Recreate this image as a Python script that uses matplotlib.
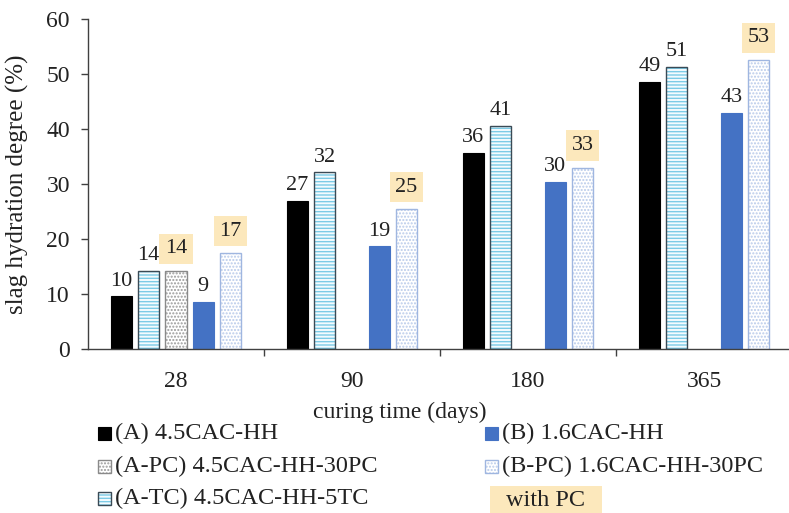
import matplotlib
matplotlib.use('Agg')
import matplotlib.pyplot as plt
from matplotlib.patches import Rectangle

plt.rcParams['font.family'] = ['Liberation Serif', 'DejaVu Serif']
plt.rcParams['hatch.linewidth'] = 1.0

# data
days = ['28', '90', '180', '365']
a_hh = [9.6, 26.9, 35.7, 48.6]
a_tc = [14.2, 32.1, 40.6, 51.3]
a_pc = [14.2, None, None, None]
b_hh = [8.6, 18.7, 30.4, 42.9]
b_pc = [17.4, 25.4, 33.0, 52.6]

labels = ['(A) 4.5CAC-HH', '(A-TC) 4.5CAC-HH-5TC', '(A-PC) 4.5CAC-HH-30PC',
          '(B) 1.6CAC-HH', '(B-PC) 1.6CAC-HH-30PC']
highlight = '#FCE8BC'

# style per series: face, hatch, hatch colour, edge, highlighted label
styles = [
    dict(face='black', hatch=None, hcol=None, edge='black', hl=False),
    dict(face='#f4fbfe', hatch='-----', hcol='#7ccbe6', edge='#3a4a55', hl=False),
    dict(face='white', hatch='.....', hcol='#9a9a9a', edge='#8a8a8a', hl=True),
    dict(face='#4472C4', hatch=None, hcol=None, edge='#4472C4', hl=False),
    dict(face='white', hatch='.....', hcol='#b9cbea', edge='#9fb6e0', hl=True),
]
series = [a_hh, a_tc, a_pc, b_hh, b_pc]

W, H = 789, 513
fig = plt.figure(figsize=(W / 100, H / 100), dpi=100)
ax = fig.add_axes([88 / W, (H - 349) / H, 704 / W, 330 / H])

slot = 0.155
width = 0.12
for i, (vals, st) in enumerate(zip(series, styles)):
    for j, v in enumerate(vals):
        if v is None:
            continue
        x = j + (i - 2) * slot
        if st['hatch']:
            ax.bar(x, v, width, color=st['face'], hatch=st['hatch'],
                   edgecolor=st['hcol'], linewidth=0)
            ax.bar(x, v, width, fill=False, edgecolor=st['edge'], linewidth=1.0)
        else:
            ax.bar(x, v, width, color=st['face'], edgecolor=st['edge'], linewidth=0.8)
        if st['hl']:
            ax.annotate(f'{v:.0f}', (x, v), xytext=(0, 9), textcoords='offset points',
                        ha='center', va='bottom', fontsize=16, color='#222222',
                        annotation_clip=False,
                        bbox=dict(boxstyle='square,pad=0.25', fc=highlight, ec='none'))
        else:
            ax.annotate(f'{v:.0f}', (x, v), xytext=(0, 4), textcoords='offset points',
                        ha='center', va='bottom', fontsize=16, color='#222222')

ax.set_xlim(-0.5, 3.5)
ax.set_ylim(0, 60)
ax.set_yticks(range(0, 61, 10))
ax.set_xticks(range(len(days)))
ax.set_xticklabels(days)
ax.set_xticks([0.5, 1.5, 2.5], minor=True)
ax.tick_params(axis='x', which='major', length=0, pad=16, labelsize=17, colors='#222222')
ax.tick_params(axis='x', which='minor', length=5, width=1, color='#404040')
ax.tick_params(axis='y', length=5, width=1, pad=8, labelsize=17, color='#404040',
               labelcolor='#222222')
for s in ['top', 'right']:
    ax.spines[s].set_visible(False)
for s in ['left', 'bottom']:
    ax.spines[s].set_color('#404040')
    ax.spines[s].set_linewidth(1.0)

ax.set_ylabel('slag hydration degree (%)', fontsize=18, color='#222222')
ax.yaxis.set_label_coords(-0.084, 0.5)
ax.set_xlabel('curing time (days)', fontsize=17, color='#222222')
ax.xaxis.set_label_coords((400 - 88) / 704, -0.16)

# legend, drawn by hand in pixel positions
def legend_entry(px, py, st, text):
    size = 13
    x0, y0 = px / W, (H - py - size / 2) / H
    if st['hatch']:
        fig.add_artist(Rectangle((x0, y0), size / W, size / H, transform=fig.transFigure,
                                 facecolor=st['face'], hatch=st['hatch'],
                                 edgecolor=st['hcol'], linewidth=0))
        fig.add_artist(Rectangle((x0, y0), size / W, size / H, transform=fig.transFigure,
                                 fill=False, edgecolor=st['edge'], linewidth=1.0))
    else:
        fig.add_artist(Rectangle((x0, y0), size / W, size / H, transform=fig.transFigure,
                                 facecolor=st['face'], edgecolor=st['edge'], linewidth=0.8))
    fig.text((px + size + 4) / W, (H - py) / H, text, fontsize=17.5, va='center',
             ha='left', color='#222222')

rows = [433, 466, 498]
legend_entry(98, rows[0], styles[0], labels[0])
legend_entry(98, rows[1], styles[2], labels[2])
legend_entry(98, rows[2], styles[1], labels[1])
legend_entry(485, rows[0], styles[3], labels[3])
legend_entry(485, rows[1], styles[4], labels[4])

fig.add_artist(Rectangle((490 / W, 0), 112 / W, (H - 486) / H, transform=fig.transFigure,
                         facecolor=highlight, edgecolor='none'))
fig.text(546 / W, (H - 501) / H, 'with PC', fontsize=17.5, va='center', ha='center',
         color='#222222')

fig.savefig('out.png', dpi=100)
